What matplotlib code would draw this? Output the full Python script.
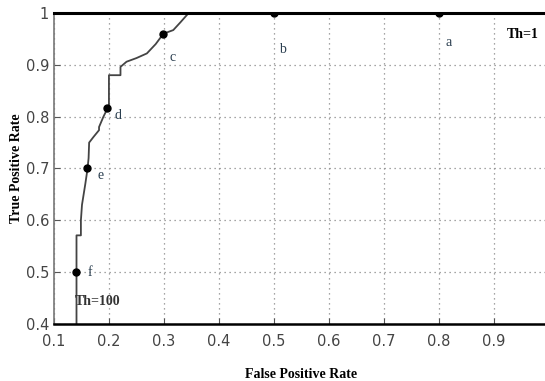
import matplotlib
matplotlib.use("Agg")
import matplotlib.pyplot as plt

# ROC curve (false positive rate, true positive rate)
fpr = [0.141, 0.141, 0.149, 0.149, 0.151, 0.157, 0.161, 0.163, 0.164,
       0.172, 0.172, 0.182, 0.182, 0.190, 0.197, 0.200, 0.200, 0.221,
       0.221, 0.232, 0.250, 0.269, 0.285, 0.299, 0.317, 0.330, 0.345,
       0.500, 0.800, 1.000]
tpr = [0.400, 0.571, 0.571, 0.600, 0.630, 0.670, 0.699, 0.720, 0.750,
       0.761, 0.761, 0.774, 0.780, 0.800, 0.815, 0.815, 0.880, 0.880,
       0.896, 0.906, 0.913, 0.922, 0.940, 0.960, 0.967, 0.982, 1.000,
       1.000, 1.000, 1.000]

# labelled operating points
point_names = ["a", "b", "c", "d", "e", "f"]
point_fpr = [0.80, 0.50, 0.299, 0.197, 0.161, 0.141]
point_tpr = [1.00, 1.00, 0.960, 0.817, 0.700, 0.500]
label_fpr = [0.817, 0.516, 0.315, 0.216, 0.184, 0.165]
label_tpr = [0.944, 0.929, 0.915, 0.803, 0.687, 0.500]

x_ticks = [0.1, 0.2, 0.3, 0.4, 0.5, 0.6, 0.7, 0.8, 0.9, 1.0]
y_ticks = [0.4, 0.5, 0.6, 0.7, 0.8, 0.9, 1.0]

fig = plt.figure(figsize=(5.45, 3.81), dpi=100)
ax = fig.add_axes([0.099, 0.1496, 0.908, 0.8163])

ax.plot(fpr, tpr, color="#444444", linewidth=1.3)
ax.plot(point_fpr, point_tpr, "o", color="black", markersize=5)

for name, lx, ly in zip(point_names, label_fpr, label_tpr):
    ax.text(lx, ly, name, fontsize=10, family="Liberation Serif",
            color="#2b3f50", ha="center", va="center")

ax.text(0.953, 0.958, "Th=1", fontsize=10, family="Liberation Serif",
        fontweight="bold", ha="center", va="center")
ax.text(0.180, 0.443, "Th=100", fontsize=10, family="Liberation Serif",
        fontweight="bold", ha="center", va="center", color="#333333")

ax.set_xlim(0.1, 1.0)
ax.set_ylim(0.4, 1.0)
ax.set_xticks(x_ticks)
ax.set_yticks(y_ticks)
# the "1" at the right end falls off the picture in the original
ax.set_xticklabels(["0.1", "0.2", "0.3", "0.4", "0.5", "0.6", "0.7", "0.8", "0.9", ""])
ax.set_yticklabels(["0.4", "0.5", "0.6", "0.7", "0.8", "0.9", "1"])

tick_font = ["Liberation Sans Narrow", "DejaVu Sans"]
for lbl in ax.get_xticklabels() + ax.get_yticklabels():
    lbl.set_family(tick_font)
    lbl.set_fontsize(10.5)
    lbl.set_color("#444444")

ax.tick_params(direction="in", length=4, color="#555555")
ax.tick_params(axis="x", pad=7)
ax.grid(True, linestyle=(0, (1, 3)), color="#888888", linewidth=0.9)

ax.spines["bottom"].set_linewidth(1.8)
ax.spines["top"].set_linewidth(2.2)
ax.spines["left"].set_color("#777777")
ax.spines["left"].set_linewidth(1.2)
ax.spines["right"].set_visible(False)

ax.set_xlabel("False Positive Rate", family="Liberation Serif",
              fontweight="bold", fontsize=10, labelpad=14)
ax.set_ylabel("True Positive Rate", family="Liberation Serif",
              fontweight="bold", fontsize=10)
ax.yaxis.set_label_coords(-0.062, 0.5)

fig.savefig("out.png", dpi=100)
